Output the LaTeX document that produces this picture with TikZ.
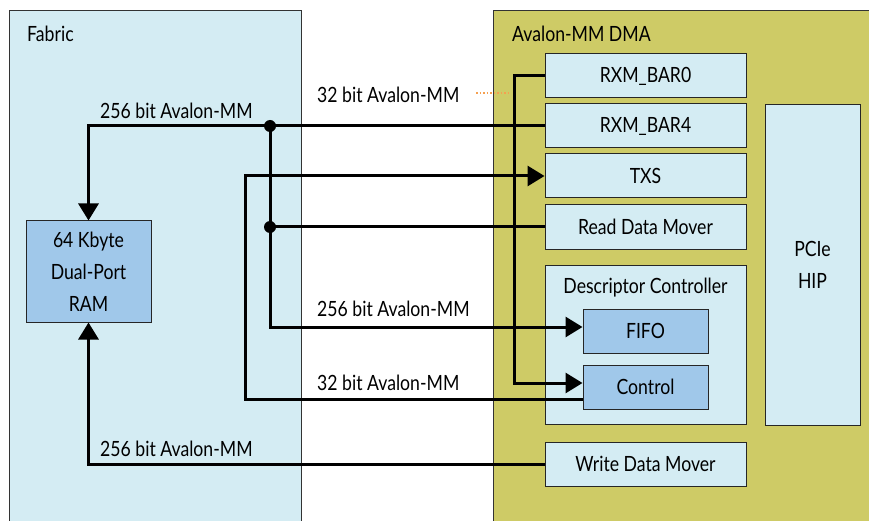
\documentclass[tikz,border=0pt]{standalone}
\usepackage{fontspec}
\setmainfont{Lato}[FakeStretch=0.84]
\usetikzlibrary{arrows.meta,positioning}
\definecolor{fabricbg}{RGB}{212,236,243}
\definecolor{dmabg}{RGB}{206,203,102}
\definecolor{inbg}{RGB}{160,200,234}
\definecolor{leader}{RGB}{245,160,80}

\begin{document}
\begin{tikzpicture}[x=1pt,y=-1pt,
  every node/.style={font=\fontsize{21}{32}\selectfont},
  blk/.style={draw=black!85, line width=1pt, fill=fabricbg, minimum width=201pt, minimum height=44pt, inner sep=0pt},
  inblk/.style={blk, fill=inbg, minimum width=125pt},
  bus/.style={line width=3pt},
  tip/.style={-{Triangle[length=17pt,width=20pt]}},
  dot/.style={circle, fill=black, minimum size=12pt, inner sep=0pt},
  lbl/.style={anchor=base west, inner sep=0pt}]
\useasboundingbox (0,0) rectangle (869,521);
\clip (0,0) rectangle (869,521);
% containers
\draw[fill=fabricbg, draw=black!80, line width=1pt] (9,11) rectangle (301,560);
\draw[fill=dmabg, draw=black!80, line width=1pt] (493,11) rectangle (900,560);
\node[lbl] (fabric) at (27,42) {Fabric};
\node[lbl] (dma) at (512,42) {Avalon-MM DMA};
% DMA blocks
\node[blk] (bar0) at (645.5,76) {RXM\_BAR0};
\node[blk] (bar4) at (645.5,126) {RXM\_BAR4};
\node[blk] (txs) at (645.5,176) {TXS};
\node[blk] (rdm) at (645.5,227) {Read Data Mover};
\node[blk, minimum height=159pt] (desc) at (645.5,344.5) {};
\node[anchor=base] (desclbl) at (645.5,293) {Descriptor Controller};
\node[inblk] (fifo) at (645.5,331) {FIFO};
\node[inblk] (ctrl) at (645.5,387) {Control};
\node[blk] (wdm) at (645.5,464) {Write Data Mover};
\node[blk, minimum width=95pt, minimum height=320pt, align=center] (hip) at (812.5,265) {PCIe\\HIP};
% fabric block
\node[inblk, minimum height=101pt, align=center] (ram) at (88.5,271.5) {64 Kbyte\\Dual-Port\\RAM};
% junctions
\node[dot] (j1) at (270,126) {};
\node[dot] (j2) at (270,227) {};
% buses
\draw[bus, tip] (bar4.west) -- (j1.center) -| (ram.north);
\draw[bus] (rdm.west) -- (j2.center);
\draw[bus, tip] (j1.center) |- ([yshift=4pt]fifo.west);
\draw[bus, tip] ([yshift=-12pt]ctrl.west) -| (245,176) -- (txs.west);
\draw[bus, tip] (bar0.west) -| (514,383) -- ([yshift=4pt]ctrl.west);
\draw[bus, tip] (wdm.west) -| (ram.south);
% leader
\draw[leader, line width=1.5pt, dotted] (476,93) -- (511,93);
% labels
\node[lbl] (l1) at (100,119) {256 bit Avalon-MM};
\node[lbl] (l2) at (317,103) {32 bit Avalon-MM};
\node[lbl] (l3) at (317,316) {256 bit Avalon-MM};
\node[lbl] (l4) at (317,390) {32 bit Avalon-MM};
\node[lbl] (l5) at (100,456) {256 bit Avalon-MM};
\end{tikzpicture}
\end{document}
